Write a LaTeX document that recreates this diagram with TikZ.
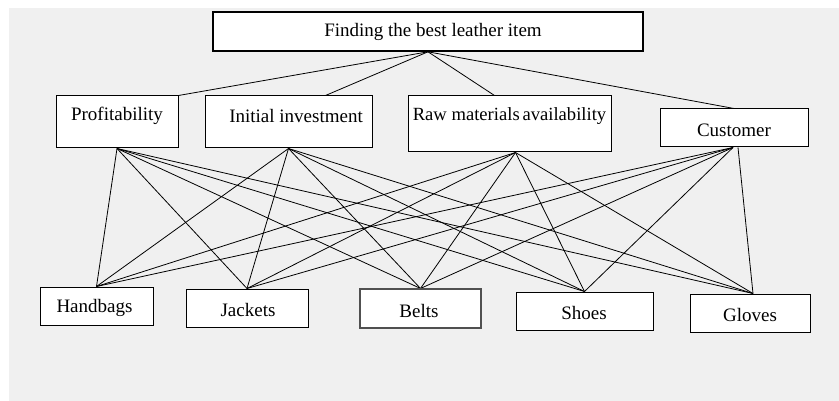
\documentclass[tikz,border=0pt]{standalone}
\usepackage{fontspec}
\setmainfont{Liberation Serif}
\usetikzlibrary{backgrounds}
\begin{document}
\begin{tikzpicture}[x=1pt,y=-1pt,
  box/.style={draw=black, fill=white, line width=1pt, inner sep=0pt},
  lbl/.style={font=\fontsize{19}{22}\selectfont, inner sep=0pt},
  link/.style={line width=0.8pt, black}]
\useasboundingbox (0,0) rectangle (839,401);
% boxes
\node[box, line width=1.6pt, minimum width=430pt, minimum height=39pt] (goal) at (428,31.5) {};
\node[box, minimum width=122pt, minimum height=52pt] (prof) at (117,122) {};
\node[box, minimum width=167pt, minimum height=52pt] (init) at (288.5,122) {};
\node[box, minimum width=203pt, minimum height=56pt] (raw) at (509.5,124) {};
\node[box, minimum width=148pt, minimum height=38pt] (cust) at (734,128) {};
\node[box, minimum width=113pt, minimum height=38pt] (hand) at (96.5,306) {};
\node[box, minimum width=122pt, minimum height=38pt] (jack) at (247,308) {};
\node[box, draw={rgb,255:red,80;green,80;blue,80}, line width=1.1pt, minimum width=121pt, minimum height=39pt] (belt) at (420.5,308.5) {};
\node[box, minimum width=137pt, minimum height=38pt] (shoe) at (584.5,311) {};
\node[box, minimum width=120pt, minimum height=38pt] (glov) at (750,313) {};
% texts
\node[lbl] (tgoal) at (433,32) {Finding the best leather item};
\node[lbl] (tprof) at (117,116) {Profitability};
\node[lbl] (tinit) at (296,116) {Initial investment};
\node[lbl, font=\fontsize{18.6}{22}\selectfont] (traw) at (509.5,116) {Raw materials\hspace{-0.1em} availability};
\node[lbl] (tcust) at (734,130) {Customer};
\node[lbl] (thand) at (94.5,308) {Handbags};
\node[lbl] (tjack) at (248,310) {Jackets};
\node[lbl] (tbelt) at (419,311) {Belts};
\node[lbl] (tshoe) at (584,313) {Shoes};
\node[lbl] (tglov) at (750,315) {Gloves};
% attachment points
\coordinate (profT) at (prof.north east);
\coordinate (initT) at ([xshift=37pt]init.north);
\coordinate (rawT) at ([xshift=-15pt]raw.north);
\coordinate (custT) at (cust.north);
\coordinate (profB) at (prof.south);
\coordinate (initB) at (init.south);
\coordinate (rawB) at ([xshift=6pt]raw.south);
\coordinate (custB) at ([xshift=-1pt]cust.south);
\coordinate (custB2) at ([xshift=4pt]cust.south);
\coordinate (glovT) at ([xshift=3pt]glov.north);
\begin{scope}[on background layer]
\fill[fill={rgb,255:red,240;green,240;blue,240}] (9,8) rectangle (839,401);
\foreach \c in {profT,initT,rawT,custT} \draw[link] (goal.south) -- (\c);
\foreach \c in {profB,initB,rawB} {
  \foreach \a in {hand.north,jack.north,belt.north,shoe.north,glovT}
    \draw[link] (\c) -- (\a);
}
\foreach \a in {hand.north,jack.north,belt.north,shoe.north}
  \draw[link] (custB) -- (\a);
\draw[link] (custB2) -- (glovT);
\end{scope}
\end{tikzpicture}
\end{document}
